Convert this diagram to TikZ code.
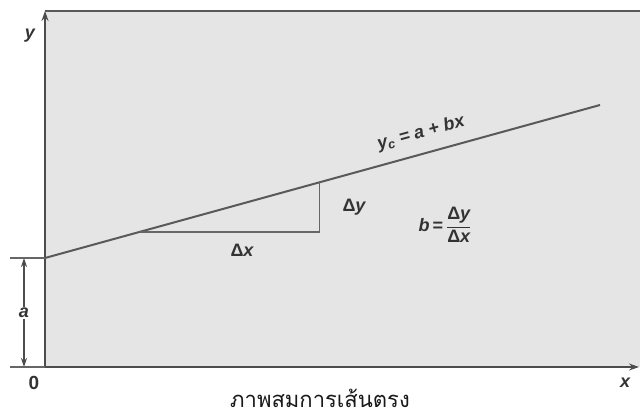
\documentclass[tikz,border=0pt]{standalone}
\usepackage{fontspec}
\setmainfont{Liberation Sans}
\newfontfamily\thaifont[Script=Thai]{Loma}
\usetikzlibrary{positioning, calc, arrows.meta}

\begin{document}
\begin{tikzpicture}[x=1pt, y=-1pt,
            panel/.style={fill=gray!20},
            frame/.style={draw=black!65, line width=2.2pt},
            axis/.style={-{Stealth[length=10pt, width=7pt]}, draw=black!70, line width=2pt},
            fit line/.style={draw=black!65, line width=2pt},
            helper/.style={draw=black!60, line width=1.8pt},
            dim/.style={-{Stealth[length=9pt, width=6pt]}, draw=black!70, line width=1.6pt},
            lab/.style={font=\fontsize{18}{18}\selectfont\bfseries\itshape, text=black!80, inner sep=1pt}
        ]
            \useasboundingbox (0,0) rectangle (640,414);

            % --- 背景パネル ---
            \fill[panel] (45,11) rectangle (640,367);
            \draw[frame] (45,11) -- (640,11);

            % --- 座標 ---
            \coordinate (O) at (45,367);
            \coordinate (ytip) at (45,11);
            \coordinate (xtip) at (639,367);
            \coordinate (A) at (45,258);
            \coordinate (lineEnd) at (600,105);
            \coordinate (R) at ($(A)!0.171!(lineEnd)$);
            \coordinate (Q) at ($(A)!0.4946!(lineEnd)$);
            \coordinate (P) at (Q |- R);

            % --- 軸 ---
            \draw[axis] (O) -- (ytip);
            \draw[axis] (O) -- (xtip);
            \node[lab] (ylab) at (30,36) {y};
            \node[lab] (xlab) at (625,383) {x};
            \node[lab, font=\fontsize{19}{19}\selectfont\bfseries] (zero) at (34,383) {0};

            % --- 回帰直線 ---
            \draw[fit line] (A) -- (lineEnd);
            \node[lab, rotate=15.4] (eqn) at (421,133) {y\textsubscript{c} = a + bx};

            % 傾きの三角形
            \draw[helper] (R) -- (P) -- (Q);
            \node[lab] (dx) at (242,250) {\upshape Δ\itshape x};
            \node[lab] (dy) at (354,207) {\upshape Δ\itshape y};
            \node[lab] (slope) at (445,225) {b\,\upshape =\,$\displaystyle\frac{\hbox{\upshape Δ\itshape y}}{\hbox{\upshape Δ\itshape x}}$};

            % --- 切片 a ---
            \coordinate (t1) at (10,258);
            \coordinate (t2) at (10,367);
            \draw[helper] (t1) -- (A);
            \draw[helper] (t2) -- (O);
            \node[lab] (alab) at (24,313) {a};
            \draw[dim] (alab.north) -- (24,258);
            \draw[dim] (alab.south) -- (24,367);

            % キャプション
            \node[font=\thaifont\fontsize{22}{22}\selectfont, text=black!90, inner sep=0pt] (caption) at (320,398) {ภาพสมการเส้นตรง};
        \end{tikzpicture}
\end{document}
